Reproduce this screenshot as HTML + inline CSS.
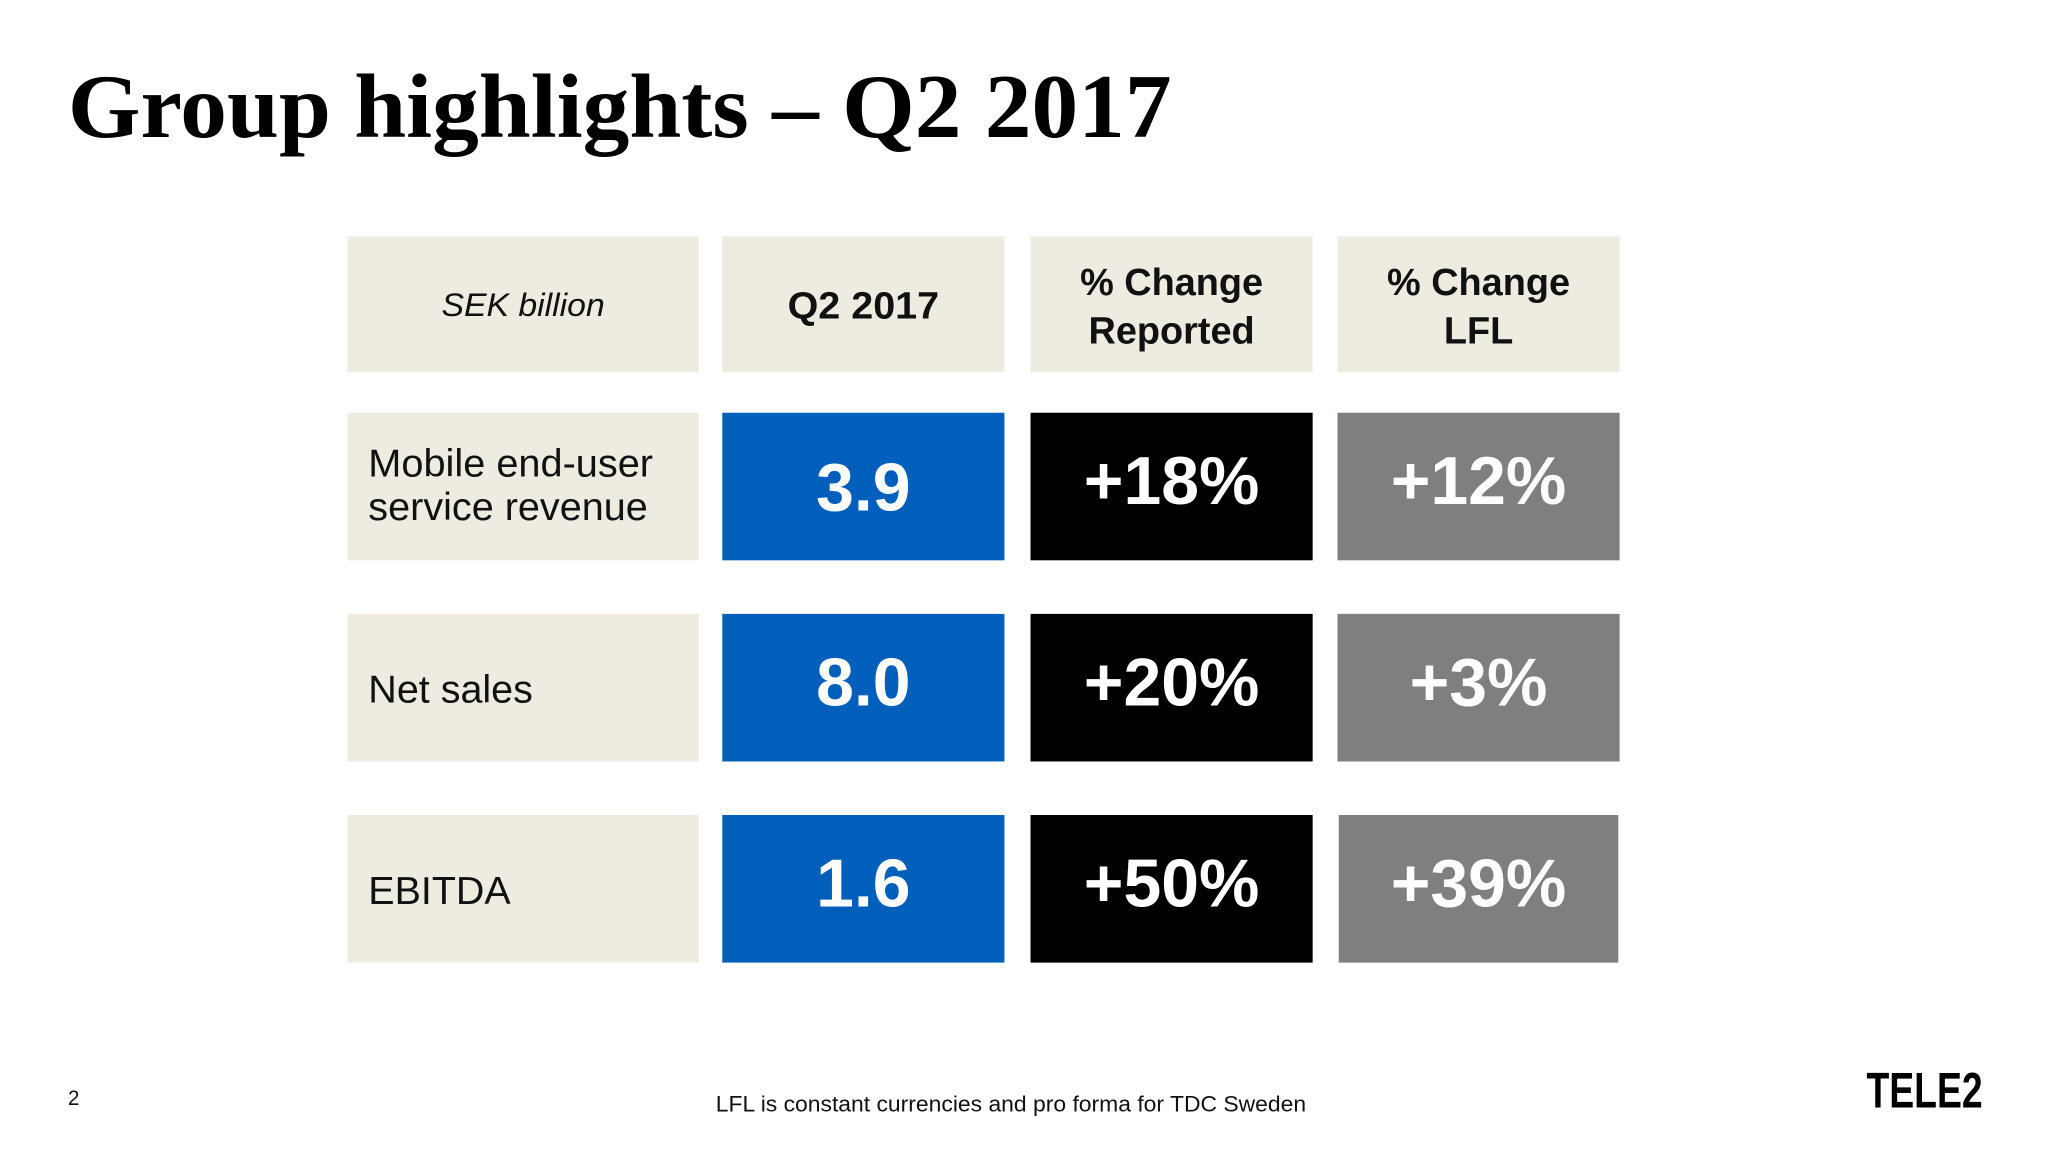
<!DOCTYPE html>
<html><head><meta charset="utf-8">
<style>
html,body{margin:0;padding:0;background:#fff;width:2048px;height:1152px;overflow:hidden}
svg{display:block}
text{font-family:"Liberation Sans",Arial,sans-serif}
</style></head>
<body>
<svg width="2048" height="1152" viewBox="0 0 1568 882" xmlns="http://www.w3.org/2000/svg">
<rect width="1568" height="882" fill="#fff"/>
<text x="52" y="105" font-weight="bold" font-size="70" textLength="845" lengthAdjust="spacingAndGlyphs" fill="#000" style="font-family:'Liberation Serif',serif">Group highlights – Q2 2017</text>

<g>
<rect x="266" y="181" width="269" height="104" fill="#EEEBE1"/>
<text x="400.5" y="242" text-anchor="middle" font-size="25" font-style="italic" fill="#111" textLength="125" lengthAdjust="spacingAndGlyphs">SEK billion</text>
<rect x="553" y="181" width="216" height="104" fill="#EEEBE1"/>
<text x="661" y="244" text-anchor="middle" font-size="29" font-weight="bold" fill="#111" textLength="116" lengthAdjust="spacingAndGlyphs">Q2 2017</text>
<rect x="789" y="181" width="216" height="104" fill="#EEEBE1"/>
<text x="897" y="226" text-anchor="middle" font-size="29" font-weight="bold" fill="#111"><tspan x="897">% Change</tspan><tspan x="897" dy="37">Reported</tspan></text>
<rect x="1024" y="181" width="216" height="104" fill="#EEEBE1"/>
<text x="1132" y="226" text-anchor="middle" font-size="29" font-weight="bold" fill="#111"><tspan x="1132">% Change</tspan><tspan x="1132" dy="37">LFL</tspan></text>
</g>

<g>
<rect x="266" y="316" width="269" height="113" fill="#EEEBE1"/>
<text x="282" y="365" font-size="29.5" fill="#111" textLength="218" lengthAdjust="spacingAndGlyphs">Mobile end-user</text>
<text x="282" y="398" font-size="29.5" fill="#111" textLength="214" lengthAdjust="spacingAndGlyphs">service revenue</text>
<rect x="553" y="316" width="216" height="113" fill="#005FBA"/>
<text x="661" y="391" text-anchor="middle" font-size="52" font-weight="bold" fill="#fff">3.9</text>
<rect x="789" y="316" width="216" height="113" fill="#000"/>
<text x="897" y="386" text-anchor="middle" font-size="52" font-weight="bold" fill="#fff">+18%</text>
<rect x="1024" y="316" width="216" height="113" fill="#807E81"/>
<text x="1132" y="386" text-anchor="middle" font-size="52" font-weight="bold" fill="#fff">+12%</text>
</g>

<g>
<rect x="266" y="470" width="269" height="113" fill="#EEEBE1"/>
<text x="282" y="538" font-size="29.5" fill="#111" textLength="126" lengthAdjust="spacingAndGlyphs">Net sales</text>
<rect x="553" y="470" width="216" height="113" fill="#005FBA"/>
<text x="661" y="540" text-anchor="middle" font-size="52" font-weight="bold" fill="#fff">8.0</text>
<rect x="789" y="470" width="216" height="113" fill="#000"/>
<text x="897" y="540" text-anchor="middle" font-size="52" font-weight="bold" fill="#fff">+20%</text>
<rect x="1024" y="470" width="216" height="113" fill="#807E81"/>
<text x="1132" y="540" text-anchor="middle" font-size="52" font-weight="bold" fill="#fff">+3%</text>
</g>

<g>
<rect x="266" y="624" width="269" height="113" fill="#EEEBE1"/>
<text x="282" y="692" font-size="29.5" fill="#111" textLength="109" lengthAdjust="spacingAndGlyphs">EBITDA</text>
<rect x="553" y="624" width="216" height="113" fill="#005FBA"/>
<text x="661" y="694" text-anchor="middle" font-size="52" font-weight="bold" fill="#fff">1.6</text>
<rect x="789" y="624" width="216" height="113" fill="#000"/>
<text x="897" y="694" text-anchor="middle" font-size="52" font-weight="bold" fill="#fff">+50%</text>
<rect x="1025" y="624" width="214" height="113" fill="#807E81"/>
<text x="1132" y="694" text-anchor="middle" font-size="52" font-weight="bold" fill="#fff">+39%</text>
</g>

<text x="52" y="846" font-size="16" fill="#111">2</text>
<text x="774" y="851" text-anchor="middle" font-size="17" fill="#111" textLength="452" lengthAdjust="spacingAndGlyphs">LFL is constant currencies and pro forma for TDC Sweden</text>
<text x="1429" y="848" font-size="38" font-weight="bold" textLength="89" lengthAdjust="spacingAndGlyphs" fill="#000">TELE2</text>
</svg>
</body></html>
